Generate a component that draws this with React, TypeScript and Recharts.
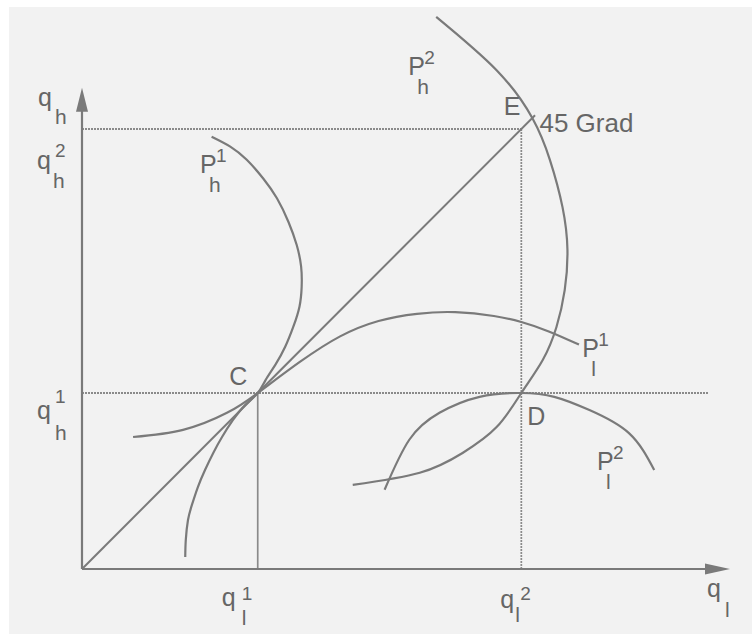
import { ComposedChart, Line, XAxis, YAxis, ReferenceLine, ReferenceDot } from 'recharts';

// isoprofit curves (q_l on x, q_h on y)
const highFirm1 = [
  { x: 23.6, y: 78.6 }, { x: 27.0, y: 76.8 }, { x: 30.0, y: 74.4 }, { x: 33.0, y: 71.0 },
  { x: 35.5, y: 67.4 }, { x: 37.6, y: 63.1 }, { x: 39.1, y: 58.9 }, { x: 39.9, y: 55.0 },
  { x: 40.0, y: 51.3 }, { x: 39.6, y: 47.7 }, { x: 38.5, y: 44.1 }, { x: 37.0, y: 40.4 },
  { x: 35.2, y: 37.1 }, { x: 33.4, y: 34.3 }, { x: 32.0, y: 32.0 }, { x: 29.7, y: 29.8 },
  { x: 27.5, y: 27.1 }, { x: 25.5, y: 24.0 }, { x: 23.9, y: 21.1 }, { x: 22.4, y: 18.0 },
  { x: 21.1, y: 14.9 }, { x: 20.0, y: 11.6 }, { x: 19.3, y: 8.9 }, { x: 18.9, y: 5.3 },
  { x: 18.8, y: 2.2 },
];
const lowFirm1 = [
  { x: 9.3, y: 24.0 }, { x: 18.4, y: 25.3 }, { x: 26.4, y: 28.4 }, { x: 32.0, y: 32.0 },
  { x: 39.6, y: 37.6 }, { x: 47.0, y: 42.3 }, { x: 54.0, y: 45.1 }, { x: 61.0, y: 46.4 },
  { x: 68.0, y: 46.7 }, { x: 75.0, y: 46.0 }, { x: 80.0, y: 44.9 }, { x: 85.0, y: 43.2 },
  { x: 90.5, y: 40.8 },
];
const highFirm2 = [
  { x: 64.5, y: 100.4 }, { x: 75.5, y: 90.7 }, { x: 82.0, y: 82.0 }, { x: 85.2, y: 74.4 },
  { x: 87.5, y: 65.8 }, { x: 88.4, y: 58.0 }, { x: 87.9, y: 50.7 }, { x: 86.4, y: 44.0 },
  { x: 83.9, y: 38.0 }, { x: 80.0, y: 32.0 }, { x: 75.5, y: 25.8 }, { x: 69.3, y: 21.1 },
  { x: 61.5, y: 17.5 }, { x: 49.3, y: 15.3 },
];
const lowFirm2 = [
  { x: 55.1, y: 14.4 }, { x: 59.6, y: 23.5 }, { x: 65.1, y: 28.4 }, { x: 72.4, y: 31.3 },
  { x: 80.0, y: 32.0 }, { x: 86.0, y: 31.3 }, { x: 92.4, y: 28.9 }, { x: 99.6, y: 24.7 },
  { x: 104.2, y: 18.0 },
];

// equilibrium quantities
const qLow = [32, 80];
const qHigh = [32, 80];
const diagonalEnd = 82.5;
const axisEnd = { x: 118, y: 87.5 };
const guideEnd = 114;

const curveLabels = [
  { base: 'P', sup: '1', sub: 'h', x: 21.5, y: 72.0 },
  { base: 'P', sup: '2', sub: 'h', x: 59.4, y: 89.8 },
  { base: 'P', sup: '1', sub: 'l', x: 91.1, y: 38.5 },
  { base: 'P', sup: '2', sub: 'l', x: 93.8, y: 18.0 },
];
const pointLabels = [
  { text: 'C', x: 26.8, y: 33.5, size: 25 },
  { text: 'E', x: 76.8, y: 82.5, size: 25 },
  { text: 'D', x: 81.1, y: 26.2, size: 25 },
  { text: '45 Grad', x: 83.3, y: 79.5, size: 26 },
];

const W = 755;
const H = 636;
const M = { top: 8, right: 25, bottom: 37, left: 22 };
const XH = 30;
const YW = 60;
const PLOT_BOTTOM = H - M.bottom - XH;

const ink = '#7a7a7a';
const guide = '#8a8a8a';
const textInk = '#666';
const font = '"Liberation Sans", Arial, sans-serif';

function Sym({ x, y, base, sup, sub, supDx = 16, supDy = -11, subDx = 9, subDy = 19 }: any) {
  return (
    <g fill={textInk} fontFamily={font}>
      <text x={x} y={y} fontSize={25}>{base}</text>
      {sup && <text x={x + supDx} y={y + supDy} fontSize={19}>{sup}</text>}
      {sub && <text x={x + subDx} y={y + subDy} fontSize={21}>{sub}</text>}
    </g>
  );
}

const xTickLayout: Record<number, any> = {
  32: { dx: -36, dy: 37, sup: '1', supDx: 20, supDy: -6, subDx: 20, subDy: 19 },
  80: { dx: -21, dy: 39, sup: '2', supDx: 20, supDy: -8, subDx: 15, subDy: 14 },
};
const yTickLayout: Record<number, any> = {
  32: { dy: 26, sup: '1', supDx: 18, supDy: -16, subDx: 18, subDy: 21 },
  80: { dy: 40, sup: '2', supDx: 18, supDy: -12, subDx: 16, subDy: 19 },
};

function XTick(props: any) {
  const l = xTickLayout[props.payload.value];
  if (!l) return null;
  return <Sym x={props.x + l.dx} y={PLOT_BOTTOM + l.dy} base="q" sub="l" {...l} />;
}
function YTick(props: any) {
  const l = yTickLayout[props.payload.value];
  if (!l) return null;
  return <Sym x={37} y={props.y + l.dy} base="q" sub="h" {...l} />;
}

const arrowRight = (p: any) => (
  <polygon points={`${p.cx},${p.cy} ${p.cx - 25},${p.cy - 5.5} ${p.cx - 25},${p.cy + 5.5}`} fill={ink} />
);
const arrowUp = (p: any) => (
  <polygon points={`${p.cx},${p.cy} ${p.cx - 6},${p.cy + 24} ${p.cx + 6},${p.cy + 24}`} fill={ink} />
);

export default function App() {
  const lineProps = { type: 'natural' as const, dataKey: 'y', stroke: ink, strokeWidth: 2.2, dot: false, isAnimationActive: false };
  return (
    <div style={{ position: 'absolute', left: 0, top: 0, width: W, height: H, background: '#fff' }}>
      <div style={{ position: 'absolute', left: 9, top: 7, width: 743, height: 627, background: '#f2f2f2' }} />
      <div style={{ position: 'absolute', left: 0, top: 0 }}>
        <ComposedChart width={W} height={H} margin={M}>
          <XAxis type="number" dataKey="x" domain={[0, 118]} ticks={qLow} tick={<XTick />} axisLine={false} tickLine={false} height={XH} allowDataOverflow />
          <YAxis type="number" dataKey="y" domain={[0, 102]} ticks={qHigh} tick={<YTick />} axisLine={false} tickLine={false} width={YW} allowDataOverflow />

          {/* guide lines to the axes */}
          <ReferenceLine segment={[{ x: 0, y: qHigh[1] }, { x: qLow[1], y: qHigh[1] }]} stroke={guide} strokeWidth={2} strokeDasharray="2 1" />
          <ReferenceLine segment={[{ x: qLow[1], y: 0 }, { x: qLow[1], y: qHigh[1] }]} stroke={guide} strokeWidth={1.7} strokeDasharray="2 1" />
          <ReferenceLine segment={[{ x: 0, y: qHigh[0] }, { x: guideEnd, y: qHigh[0] }]} stroke={guide} strokeWidth={2} strokeDasharray="2 1" />
          <ReferenceLine segment={[{ x: qLow[0], y: 0 }, { x: qLow[0], y: qHigh[0] }]} stroke={guide} strokeWidth={1.7} />

          {/* 45 degree line */}
          <ReferenceLine segment={[{ x: 0, y: 0 }, { x: diagonalEnd, y: diagonalEnd }]} stroke={ink} strokeWidth={2} />

          {/* axes */}
          <ReferenceLine segment={[{ x: 0, y: 0 }, { x: axisEnd.x - 3, y: 0 }]} stroke={ink} strokeWidth={2.2} />
          <ReferenceLine segment={[{ x: 0, y: 0 }, { x: 0, y: axisEnd.y - 3 }]} stroke={ink} strokeWidth={2.2} />
          <ReferenceDot x={axisEnd.x} y={0} r={0} shape={arrowRight} ifOverflow="visible" />
          <ReferenceDot x={0} y={axisEnd.y} r={0} shape={arrowUp} ifOverflow="visible" />

          <Line data={highFirm1} {...lineProps} />
          <Line data={lowFirm1} {...lineProps} />
          <Line data={highFirm2} {...lineProps} />
          <Line data={lowFirm2} {...lineProps} />

          {curveLabels.map((c, i) => (
            <ReferenceDot key={`c${i}`} x={c.x} y={c.y} r={0} ifOverflow="visible"
              shape={(p: any) => <Sym x={p.cx} y={p.cy} base={c.base} sup={c.sup} sub={c.sub} />} />
          ))}
          {pointLabels.map((c, i) => (
            <ReferenceDot key={`p${i}`} x={c.x} y={c.y} r={0} ifOverflow="visible"
              shape={(p: any) => <text x={p.cx} y={p.cy} fontSize={c.size} fill={textInk} fontFamily={font}>{c.text}</text>} />
          ))}
          <ReferenceDot x={-8} y={84.2} r={0} ifOverflow="visible"
            shape={(p: any) => <Sym x={p.cx} y={p.cy} base="q" sub="h" subDx={17} subDy={18} />} />
          <ReferenceDot x={113.8} y={-5.1} r={0} ifOverflow="visible"
            shape={(p: any) => <Sym x={p.cx} y={p.cy} base="q" sub="l" subDx={18} subDy={20} />} />
        </ComposedChart>
      </div>
    </div>
  );
}
